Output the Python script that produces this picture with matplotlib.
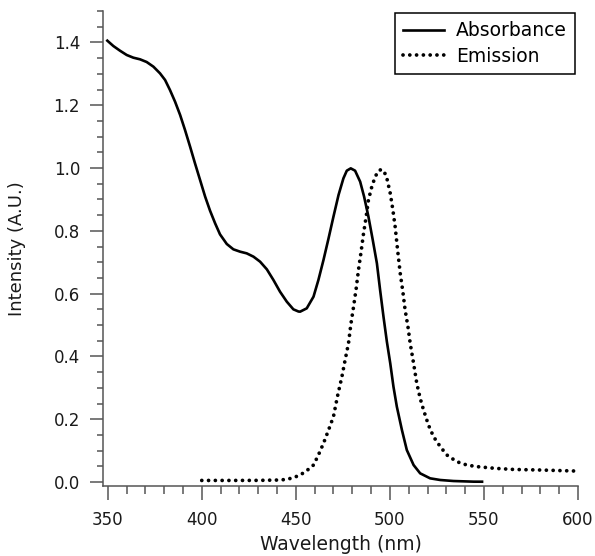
import matplotlib
matplotlib.use("Agg")
import matplotlib.pyplot as plt
from matplotlib.ticker import MultipleLocator, FormatStrFormatter

plt.rcParams['font.family'] = ['DejaVu Sans']

abs_x = [349.8, 353.0, 356.5, 360.1, 363.6, 367.2, 370.7, 374.3, 377.8, 380.5, 383.1,
         385.8, 388.5, 391.1, 393.8, 396.4, 399.1, 401.8, 404.4, 407.1, 409.7, 413.3,
         416.8, 420.4, 423.9, 427.5, 431.0, 434.6, 438.1, 441.6, 445.2, 448.7, 451.4,
         452.3, 455.8, 459.4, 462.0, 464.7, 467.4, 470.0, 472.7, 475.3, 477.1, 479.2,
         481.5, 484.2, 486.3, 488.6, 490.9, 493.1, 494.8, 496.6, 498.4, 500.2, 501.9,
         503.7, 506.4, 509.0, 512.6, 516.1, 521.4, 526.8, 533.8, 544.5, 549.0]
abs_y = [1.4055, 1.3885, 1.3737, 1.3599, 1.3514, 1.3461, 1.3376, 1.3227, 1.3015, 1.2803,
         1.2484, 1.2113, 1.1688, 1.1210, 1.0679, 1.0149, 0.9618, 0.9087, 0.8641, 0.8238,
         0.7887, 0.7580, 0.7410, 0.7335, 0.7282, 0.7176, 0.7017, 0.6773, 0.6433, 0.6061,
         0.5743, 0.5499, 0.5430, 0.5425, 0.5531, 0.5902, 0.6433, 0.7070, 0.7760, 0.8450,
         0.9140, 0.9671, 0.9915, 0.9989, 0.9915, 0.9565, 0.9087, 0.8450, 0.7707, 0.6964,
         0.6115, 0.5265, 0.4469, 0.3779, 0.3036, 0.2399, 0.1656, 0.1019, 0.0541, 0.0276,
         0.0117, 0.0064, 0.0032, 0.0011, 0.0010]

em_x = [400.0, 415.0, 430.0, 441.6, 445.2, 448.7, 452.3, 455.8, 459.4, 462.0, 464.7,
        467.4, 470.0, 472.1, 474.5, 476.2, 478.0, 479.2, 480.7, 482.1, 483.3, 484.7,
        486.0, 487.4, 488.6, 490.4, 492.2, 494.0, 495.7, 498.0, 500.2, 501.6, 502.8,
        504.1, 505.5, 506.9, 508.1, 509.6, 510.8, 512.6, 514.3, 516.1, 517.9, 520.5,
        523.2, 526.8, 530.3, 535.6, 540.9, 546.3, 556.0, 565.7, 580.0, 598.6]
em_y = [0.0050, 0.0050, 0.0052, 0.0064, 0.0085, 0.0138, 0.0223, 0.0361, 0.0541, 0.0860,
        0.1231, 0.1656, 0.2081, 0.2718, 0.3355, 0.3885, 0.4416, 0.5000, 0.5584, 0.6168,
        0.6752, 0.7335, 0.7919, 0.8450, 0.8981, 0.9406, 0.9724, 0.9915, 0.9958, 0.9777,
        0.9193, 0.8662, 0.8132, 0.7389, 0.6645, 0.6061, 0.5478, 0.4947, 0.4416, 0.3779,
        0.3142, 0.2665, 0.2293, 0.1815, 0.1444, 0.1125, 0.0860, 0.0647, 0.0541, 0.0490,
        0.0435, 0.0400, 0.0382, 0.0350]

x_major = 50
x_minor = 10
y_major = 0.2
y_minor = 0.05

fig = plt.figure(figsize=(5.95, 5.56), dpi=100)
ax = fig.add_axes([103/595, 70/556, (578-103)/595, (486-11)/556])

ax.plot(abs_x, abs_y, color='black', lw=1.9, label='Absorbance')
ax.plot(em_x, em_y, color='black', lw=2.7, linestyle=(0, (0.01, 1.8)),
        dash_capstyle='round', label='Emission')

ax.set_xlim(347.5, 600)
ax.set_ylim(-0.0127, 1.5)
ax.xaxis.set_major_locator(MultipleLocator(x_major))
ax.xaxis.set_minor_locator(MultipleLocator(x_minor))
ax.yaxis.set_major_locator(MultipleLocator(y_major))
ax.yaxis.set_minor_locator(MultipleLocator(y_minor))
ax.yaxis.set_major_formatter(FormatStrFormatter('%.1f'))

for s in ['top', 'right']:
    ax.spines[s].set_visible(False)
for s in ['left', 'bottom']:
    ax.spines[s].set_color('#555555')
    ax.spines[s].set_linewidth(1.1)

ax.tick_params(axis='y', which='major', direction='out', length=9.5, width=1.1,
               color='#555555', labelsize=12, labelcolor='#1a1a1a', pad=7)
ax.tick_params(axis='y', which='minor', direction='out', length=4.5, width=1.1,
               color='#555555')
ax.tick_params(axis='x', which='major', direction='out', length=10, width=1.1,
               color='#555555', labelsize=12, labelcolor='#1a1a1a', pad=8)
ax.tick_params(axis='x', which='minor', direction='out', length=5.5, width=1.1,
               color='#555555')

ax.set_xlabel('Wavelength (nm)', fontsize=13.5, color='#1a1a1a')
ax.set_ylabel('Intensity (A.U.)', fontsize=13, color='#1a1a1a')
ax.xaxis.set_label_coords(0.5, -0.103)
ax.yaxis.set_label_coords(-0.162, 0.5)

leg = ax.legend(loc='upper right', bbox_to_anchor=(575/595, 1 - 13/556),
                bbox_transform=fig.transFigure, fontsize=13.5, frameon=True,
                fancybox=False, edgecolor='black', framealpha=1,
                borderpad=0.45, handlelength=2.2, handletextpad=0.6, labelspacing=0.35,
                borderaxespad=0)
leg.get_frame().set_linewidth(1.1)

fig.savefig('out.png', dpi=100)
